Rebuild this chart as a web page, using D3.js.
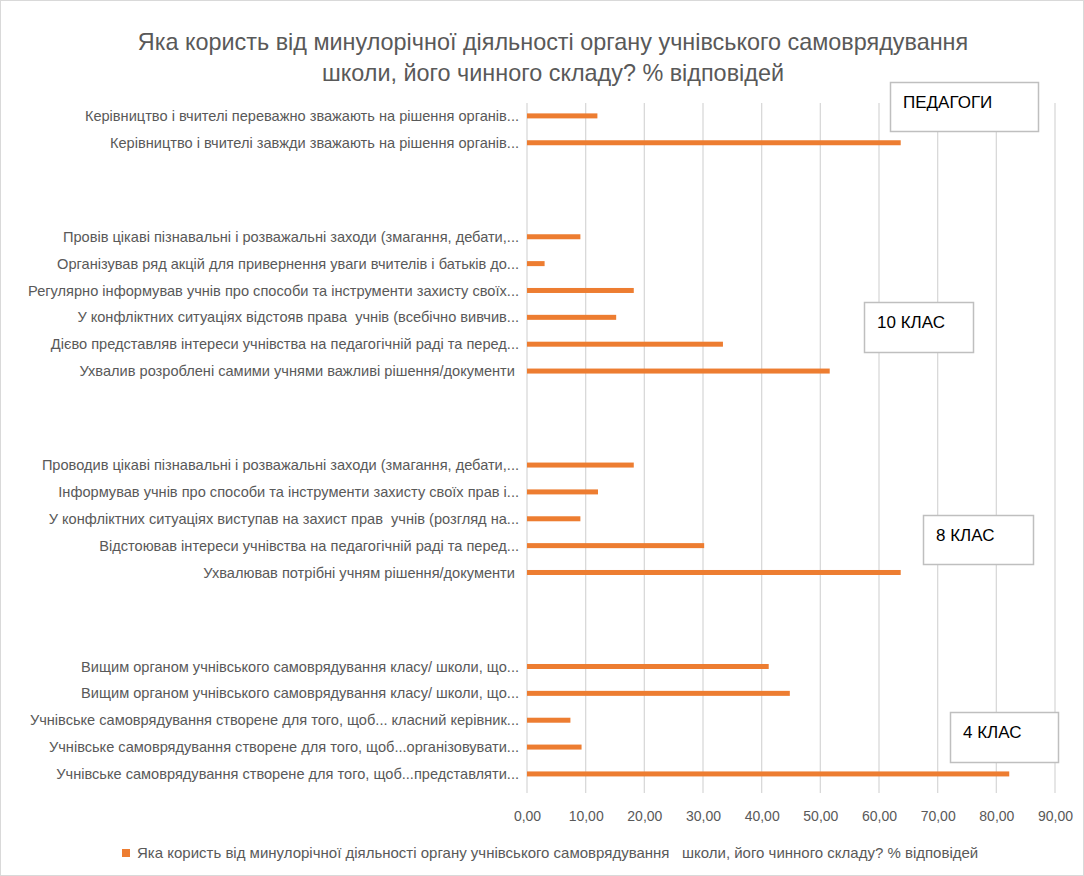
<!DOCTYPE html>
<html>
<head>
<meta charset="utf-8">
<script src="https://cdn.jsdelivr.net/npm/d3@7"></script>
<style>
  body { margin: 0; background: #fff; }
  text { font-family: "Liberation Sans", Arial, sans-serif; }
</style>
</head>
<body>
<div id="chart"></div>
<script>
// categories, top to bottom
const labels = [
  'Керівництво і вчителі переважно зважають на рішення органів...',
  'Керівництво і вчителі завжди зважають на рішення органів...',
  'Провів цікаві пізнавальні і розважальні заходи (змагання, дебати,...',
  'Організував ряд акцій для привернення уваги вчителів і батьків до...',
  'Регулярно інформував учнів про способи та інструменти захисту своїх...',
  'У конфліктних ситуаціях відстояв права  учнів (всебічно вивчив...',
  'Дієво представляв інтереси учнівства на педагогічній раді та перед...',
  'Ухвалив розроблені самими учнями важливі рішення/документи ',
  'Проводив цікаві пізнавальні і розважальні заходи (змагання, дебати,...',
  'Інформував учнів про способи та інструменти захисту своїх прав і...',
  'У конфліктних ситуаціях виступав на захист прав  учнів (розгляд на...',
  'Відстоював інтереси учнівства на педагогічній раді та перед...',
  'Ухвалював потрібні учням рішення/документи ',
  'Вищим органом учнівського самоврядування класу/ школи, що...',
  'Вищим органом учнівського самоврядування класу/ школи, що...',
  'Учнівське самоврядування створене для того, щоб... класний керівник...',
  'Учнівське самоврядування створене для того, щоб...організовувати...',
  'Учнівське самоврядування створене для того, щоб...представляти...'
];
const values = [12.0, 63.7, 9.1, 3.0, 18.2, 15.2, 33.4, 51.6, 18.2, 12.1, 9.1, 30.2, 63.7, 41.2, 44.8, 7.4, 9.3, 82.2];
const groupOf = [0, 0, 1, 1, 1, 1, 1, 1, 2, 2, 2, 2, 2, 3, 3, 3, 3, 3];
const groupNames = ['ПЕДАГОГИ', '10 КЛАС', '8 КЛАС', '4 КЛАС'];
const xTicks = [0, 10, 20, 30, 40, 50, 60, 70, 80, 90];
const seriesName = 'Яка користь від минулорічної діяльності органу учнівського самоврядування   школи, його чинного складу? % відповідей';
const titleLines = [
  'Яка користь від минулорічної діяльності органу учнівського самоврядування',
  'школи, його чинного складу? % відповідей'
];

// where the group text boxes sit
const boxes = [
  {x: 890, y: 82, w: 148, h: 49},
  {x: 864, y: 302, w: 109, h: 50},
  {x: 923, y: 515, w: 110, h: 49},
  {x: 950, y: 712, w: 108, h: 50}
];

const W = 1084, H = 876;
const margin = {left: 527, right: 1055, top: 103, bottom: 793};
const gapRows = 2.5;

const rows = labels.map((name, i) => ({
  name: name,
  value: values[i],
  pos: i + groupOf[i] * gapRows
}));

const svg = d3.select('#chart').append('svg')
  .attr('width', W)
  .attr('height', H);

svg.append('rect')
  .attr('x', 0.5).attr('y', 0.5)
  .attr('width', W - 1).attr('height', H - 1)
  .attr('fill', '#fff')
  .attr('stroke', '#d9d9d9');

const x = d3.scaleLinear().domain([0, 90]).range([margin.left, margin.right]);
const lastPos = d3.max(rows, d => d.pos);
const y = d3.scaleLinear().domain([-0.48, lastPos + 0.71]).range([margin.top, margin.bottom]);

// gridlines
svg.append('g')
  .selectAll('line')
  .data(xTicks)
  .enter()
  .append('line')
  .attr('x1', d => x(d)).attr('x2', d => x(d))
  .attr('y1', margin.top).attr('y2', margin.bottom)
  .attr('stroke', '#d9d9d9')
  .attr('stroke-width', 1.3);

// x axis labels
const xAxis = d3.axisBottom(x)
  .tickValues(xTicks)
  .tickSize(0)
  .tickPadding(18)
  .tickFormat(d => d3.format('.2f')(d).replace('.', ','));
const gx = svg.append('g')
  .attr('transform', `translate(0, ${margin.bottom})`)
  .call(xAxis);
gx.select('.domain').remove();
gx.selectAll('text')
  .attr('fill', '#595959')
  .style('font-size', '14px')
  .style('font-family', '"Liberation Sans", Arial, sans-serif');

// bars
svg.append('g')
  .selectAll('rect')
  .data(rows)
  .enter()
  .append('rect')
  .attr('x', x(0))
  .attr('y', d => y(d.pos) - 2.5)
  .attr('width', d => x(d.value) - x(0))
  .attr('height', 5)
  .attr('fill', '#ed7d31');

// category labels
svg.append('g')
  .selectAll('text')
  .data(rows)
  .enter()
  .append('text')
  .attr('x', margin.left - 8)
  .attr('y', d => y(d.pos))
  .attr('dy', '0.35em')
  .attr('text-anchor', 'end')
  .attr('fill', '#595959')
  .style('font-size', '14.6px')
  .style('white-space', 'pre')
  .text(d => d.name);

// title
svg.append('g')
  .selectAll('text')
  .data(titleLines)
  .enter()
  .append('text')
  .attr('x', 553)
  .attr('y', (d, i) => 50 + i * 31)
  .attr('text-anchor', 'middle')
  .attr('fill', '#595959')
  .style('font-size', '23.4px')
  .text(d => d);

// group boxes
const box = svg.append('g')
  .selectAll('g')
  .data(groupNames)
  .enter()
  .append('g')
  .attr('transform', (d, i) => `translate(${boxes[i].x}, ${boxes[i].y})`);
box.append('rect')
  .attr('x', 0.5).attr('y', 0.5)
  .attr('width', (d, i) => boxes[i].w)
  .attr('height', (d, i) => boxes[i].h)
  .attr('fill', '#fff')
  .attr('stroke', '#bfbfbf')
  .attr('stroke-width', 1.5);
box.append('text')
  .attr('x', 13)
  .attr('y', 26)
  .attr('fill', '#000')
  .style('font-size', '17px')
  .text(d => d);

// legend
const legend = svg.append('g').attr('transform', 'translate(122, 853)');
legend.append('rect')
  .attr('x', 0).attr('y', -4)
  .attr('width', 8).attr('height', 8)
  .attr('fill', '#ed7d31');
legend.append('text')
  .attr('x', 15)
  .attr('y', 0)
  .attr('dy', '0.35em')
  .attr('fill', '#595959')
  .style('font-size', '15px')
  .style('white-space', 'pre')
  .text(seriesName);
</script>
</body>
</html>
